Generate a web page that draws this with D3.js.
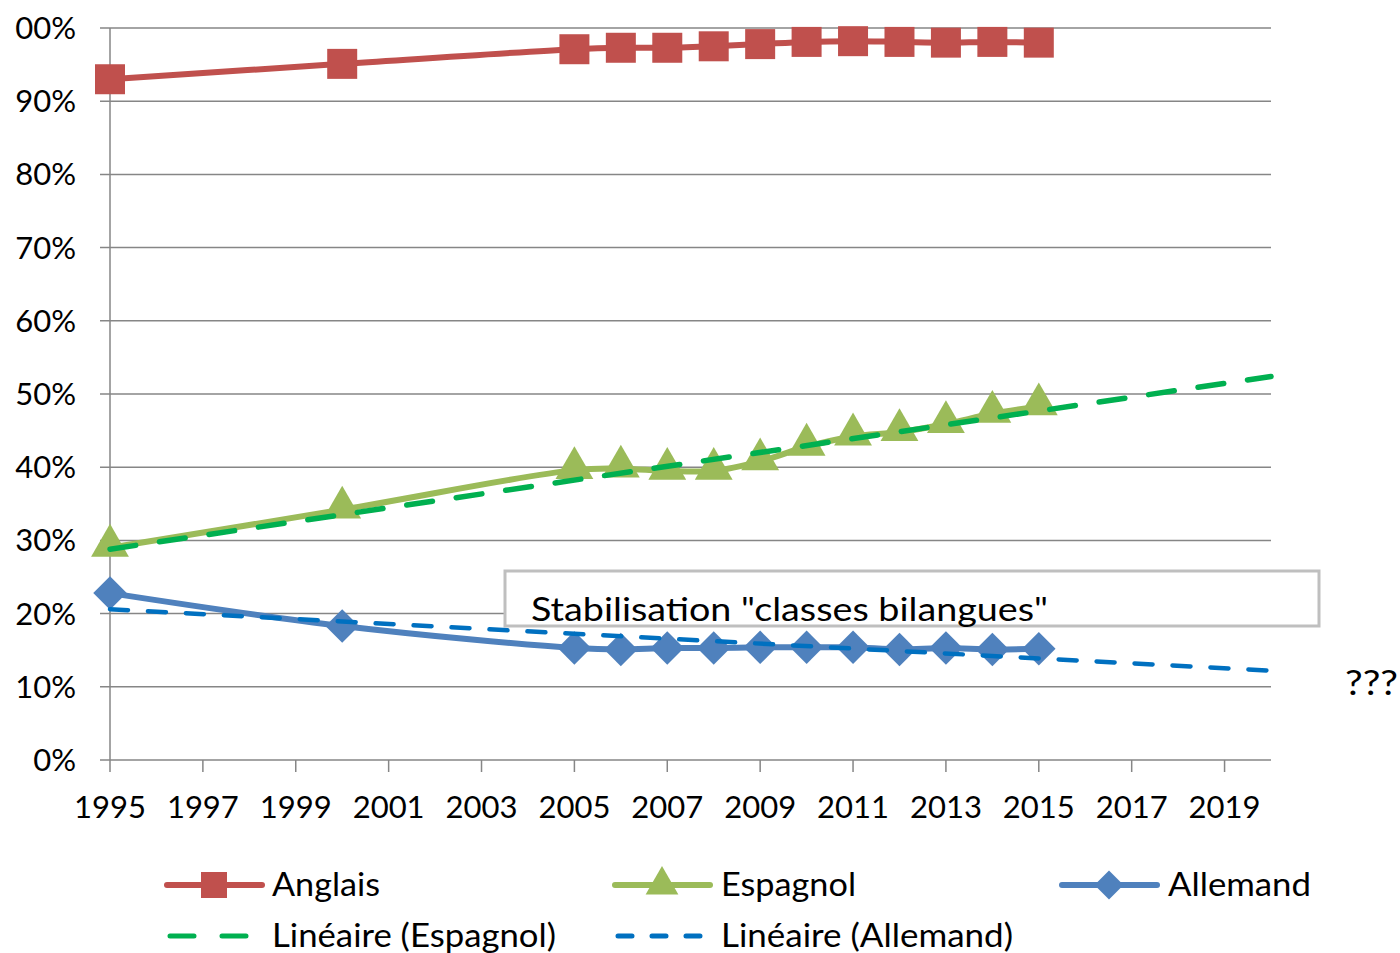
<!DOCTYPE html>
<html>
<head>
<meta charset="utf-8">
<script src="https://cdn.jsdelivr.net/npm/d3@7"></script>
<style>
  body { margin: 0; background: #fff; }
  text { font-family: Lato, "Open Sans", sans-serif; fill: #000; }
</style>
</head>
<body>
<svg id="chart" width="1400" height="953"></svg>
<script>
// data
var years = [1995, 2000, 2005, 2006, 2007, 2008, 2009, 2010, 2011, 2012, 2013, 2014, 2015];
var anglais = [93.0, 95.1, 97.1, 97.3, 97.3, 97.5, 97.8, 98.1, 98.2, 98.1, 98.0, 98.1, 98.0];
var espagnol = [29.0, 34.2, 39.6, 39.8, 39.5, 39.5, 40.8, 42.8, 44.2, 44.8, 45.9, 47.3, 48.3];
var allemand = [22.8, 18.3, 15.3, 15.1, 15.3, 15.3, 15.4, 15.4, 15.4, 15.1, 15.3, 15.1, 15.2];

// trend lines (end points)
var trendYears = [1995, 2020];
var trendEspagnol = [28.8, 52.4];
var trendAllemand = [20.6, 12.2];

var yTicks = [0, 10, 20, 30, 40, 50, 60, 70, 80, 90, 100];
var xTicks = [1995, 1997, 1999, 2001, 2003, 2005, 2007, 2009, 2011, 2013, 2015, 2017, 2019];

var svg = d3.select('#chart');

var x = d3.scaleLinear().domain([1995, 2020]).range([110, 1271]);
var y = d3.scaleLinear().domain([0, 100]).range([760, 28]);

var gridColor = '#868686';

// horizontal grid
svg.append('g').selectAll('line')
	.data(yTicks)
	.enter().append('line')
	.attr('x1', 100).attr('x2', x(2020))
	.attr('y1', function(d) { return y(d); })
	.attr('y2', function(d) { return y(d); })
	.attr('stroke', gridColor).attr('stroke-width', 1.5);

// y labels (top one is cut off on the left in the original)
svg.append('g').selectAll('text')
	.data(yTicks)
	.enter().append('text')
	.attr('x', 76)
	.attr('y', function(d) { return y(d) + 11; })
	.attr('text-anchor', 'end')
	.style('font-size', '31px')
	.text(function(d) { return d === 100 ? '00%' : d + '%'; });

// y axis line
svg.append('line')
	.attr('x1', x(1995)).attr('x2', x(1995))
	.attr('y1', y(100)).attr('y2', y(0) + 12)
	.attr('stroke', gridColor).attr('stroke-width', 1.5);

// x ticks
svg.append('g').selectAll('line')
	.data(xTicks.slice(1))
	.enter().append('line')
	.attr('x1', function(d) { return x(d); })
	.attr('x2', function(d) { return x(d); })
	.attr('y1', y(0)).attr('y2', y(0) + 12)
	.attr('stroke', gridColor).attr('stroke-width', 1.5);

svg.append('g').selectAll('text')
	.data(xTicks)
	.enter().append('text')
	.attr('x', function(d) { return x(d); })
	.attr('y', 818)
	.attr('text-anchor', 'middle')
	.style('font-size', '31px')
	.text(function(d) { return d; });

var line = d3.line()
	.x(function(d) { return x(d[0]); })
	.y(function(d) { return y(d[1]); });

var smooth = d3.line()
	.x(function(d) { return x(d[0]); })
	.y(function(d) { return y(d[1]); })
	.curve(d3.curveCatmullRom.alpha(0.5));

function pairs(xs, vs) {
	return xs.map(function(d, i) { return [d, vs[i]]; });
}

var series = [
	{ name: 'Anglais', values: anglais, color: '#C0504D', symbol: d3.symbolSquare, size: 900, rot: 0 },
	{ name: 'Espagnol', values: espagnol, color: '#9BBB59', symbol: d3.symbolTriangle, size: 620, rot: 0 },
	{ name: 'Allemand', values: allemand, color: '#4F81BD', symbol: d3.symbolSquare, size: 560, rot: 45 }
];

var trends = [
	{ name: 'Linéaire (Espagnol)', values: trendEspagnol, color: '#00B050' },
	{ name: 'Linéaire (Allemand)', values: trendAllemand, color: '#0070C0' }
];

// annotation box
svg.append('rect')
	.attr('x', 505).attr('y', 571)
	.attr('width', 814).attr('height', 55)
	.attr('fill', '#fff')
	.attr('stroke', '#bfbfbf').attr('stroke-width', 3);

svg.append('text')
	.attr('x', 531).attr('y', 621)
	.attr('textLength', 517).attr('lengthAdjust', 'spacingAndGlyphs')
	.style('font-size', '33px')
	.text('Stabilisation "classes bilangues"');

svg.append('text')
	.attr('x', 1345).attr('y', 695)
	.attr('textLength', 53).attr('lengthAdjust', 'spacingAndGlyphs')
	.style('font-size', '34px')
	.text('???');

// series lines + markers
series.forEach(function(s) {
	var pts = pairs(years, s.values);
	svg.append('path')
		.attr('d', smooth(pts))
		.attr('fill', 'none')
		.attr('stroke', s.color)
		.attr('stroke-width', 6)
		.attr('stroke-linejoin', 'round');

	svg.append('g').selectAll('path')
		.data(pts)
		.enter().append('path')
		.attr('d', d3.symbol().type(s.symbol).size(s.size))
		.attr('transform', function(d) {
			var dy = s.symbol === d3.symbolTriangle ? -2 : 0;
			return 'translate(' + x(d[0]) + ',' + (y(d[1]) + dy) + ') rotate(' + s.rot + ')';
		})
		.attr('fill', s.color);
});

// trend lines on top
trends.forEach(function(t) {
	svg.append('path')
		.attr('d', line(pairs(trendYears, t.values)))
		.attr('fill', 'none')
		.attr('stroke', t.color)
		.attr('stroke-width', t.color === '#00B050' ? 5.5 : 4.5)
		.attr('stroke-dasharray', t.color === '#00B050' ? '26,24' : '18,20')
		.attr('stroke-linecap', 'round');
});

// legend
var legendItems = [
	{ s: series[0], lx: 167, tx: 272, ty: 885, w: 108 },
	{ s: series[1], lx: 615, tx: 721, ty: 885, w: 135 },
	{ s: series[2], lx: 1062, tx: 1168, ty: 885, w: 143 }
];

legendItems.forEach(function(it) {
	var g = svg.append('g');
	g.append('line')
		.attr('x1', it.lx).attr('x2', it.lx + 95)
		.attr('y1', it.ty).attr('y2', it.ty)
		.attr('stroke', it.s.color).attr('stroke-width', 6)
		.attr('stroke-linecap', 'round');
	g.append('path')
		.attr('d', d3.symbol().type(it.s.symbol).size(it.s.size * 0.75))
		.attr('transform', 'translate(' + (it.lx + 47) + ',' + it.ty + ') rotate(' + it.s.rot + ')')
		.attr('fill', it.s.color);
	g.append('text')
		.attr('x', it.tx).attr('y', it.ty + 11)
		.attr('textLength', it.w).attr('lengthAdjust', 'spacingAndGlyphs')
		.style('font-size', '32px')
		.text(it.s.name);
});

var trendLegend = [
	{ t: trends[0], lx: 167, tx: 272, ty: 936, w: 284 },
	{ t: trends[1], lx: 615, tx: 721, ty: 936, w: 292 }
];

trendLegend.forEach(function(it) {
	var g = svg.append('g');
	g.append('line')
		.attr('x1', it.lx + 3).attr('x2', it.lx + 92)
		.attr('y1', it.ty).attr('y2', it.ty)
		.attr('stroke', it.t.color).attr('stroke-width', 5)
		.attr('stroke-dasharray', it.t.color === '#00B050' ? '24,28' : '14,20')
		.attr('stroke-linecap', 'round');
	g.append('text')
		.attr('x', it.tx).attr('y', it.ty + 11)
		.attr('textLength', it.w).attr('lengthAdjust', 'spacingAndGlyphs')
		.style('font-size', '32px')
		.text(it.t.name);
});
</script>
</body>
</html>
